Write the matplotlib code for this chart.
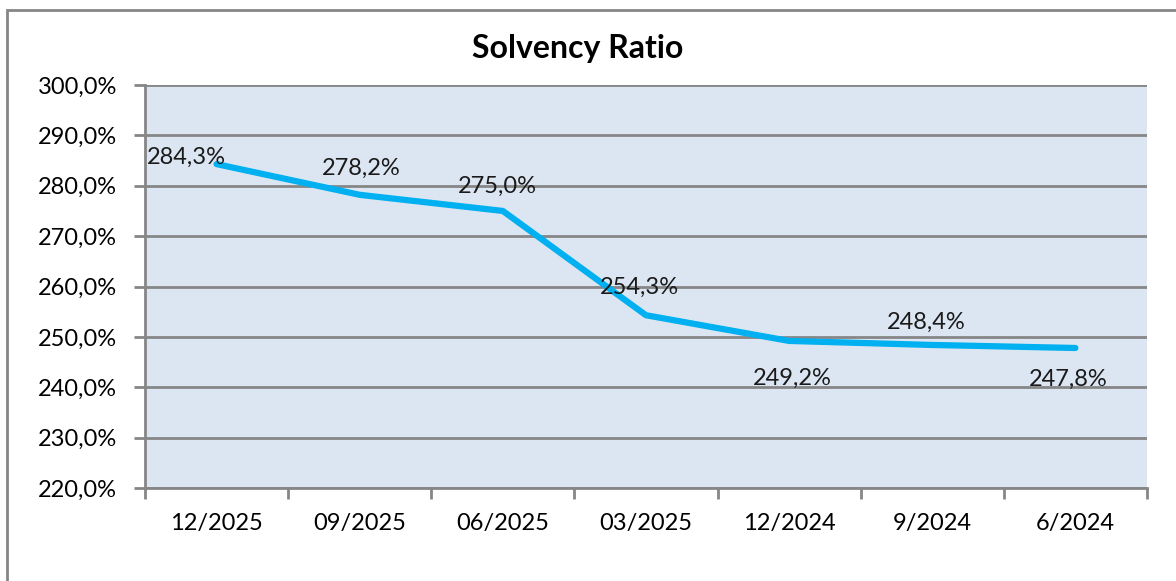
import numpy as np
import matplotlib.pyplot as plt
from matplotlib.patches import Rectangle

plt.rcParams['font.family'] = ['Lato', 'DejaVu Sans']

# data
periods = ['12/2025', '09/2025', '06/2025', '03/2025', '12/2024', '9/2024', '6/2024']
ratio = [284.3, 278.2, 275.0, 254.3, 249.2, 248.4, 247.8]
# where Excel put each data label, in pixels from the point
label_offsets = [(-30, 7), (2, 26), (-5, 25), (-7, 28), (3, -37), (-6, 23), (-7, -31)]

grey = '#868686'
fs = 17

fig = plt.figure(figsize=(11.76, 5.81), dpi=100)
ax = fig.add_axes([0.1233, 0.160, 0.852, 0.6937])
ax.set_facecolor('#DCE6F2')

x = np.arange(len(periods))
ax.plot(x, ratio, color='#00B0F0', lw=4.5, solid_capstyle='round', zorder=3)

for xi, yi, (dx, dy) in zip(x, ratio, label_offsets):
    txt = f'{yi:.1f}%'.replace('.', ',')
    ax.annotate(txt, (xi, yi), xytext=(dx, dy), textcoords='offset pixels',
                ha='center', va='center', fontsize=fs, color='#1a1a1a', zorder=4)

ax.set_xlim(-0.5, len(periods) - 0.5)
ax.set_ylim(220, 300)
ax.set_yticks(np.arange(220, 301, 10))
ax.set_yticklabels([f'{v:.1f}%'.replace('.', ',') for v in np.arange(220, 301, 10)])
ax.yaxis.grid(True, color=grey, lw=2)
ax.set_axisbelow(True)

# category boundaries carry the tick marks, labels sit in between
ax.set_xticks(np.arange(-0.5, len(periods), 1.0))
ax.set_xticklabels([])
ax.set_xticks(x, minor=True)
ax.set_xticklabels(periods, minor=True)
ax.tick_params(axis='x', which='major', length=8, width=2, color=grey, direction='out')
ax.tick_params(axis='x', which='minor', length=0, pad=18, labelsize=fs)
ax.tick_params(axis='y', length=8, width=2, color=grey, pad=12, labelsize=fs)

for s in ['top', 'right']:
    ax.spines[s].set_visible(False)
for s in ['left', 'bottom']:
    ax.spines[s].set_color(grey)
    ax.spines[s].set_linewidth(2)

fig.text(0.4915, 0.917, 'Solvency Ratio', ha='center', va='center',
         fontsize=23, fontweight='bold')

# outer chart border
fig.patches.append(Rectangle((7 / 1176, -0.1), 1.2, 1 - 10 / 581 + 0.1,
                             transform=fig.transFigure, fill=False,
                             edgecolor=grey, lw=2))

fig.savefig('out.png', dpi=100)
